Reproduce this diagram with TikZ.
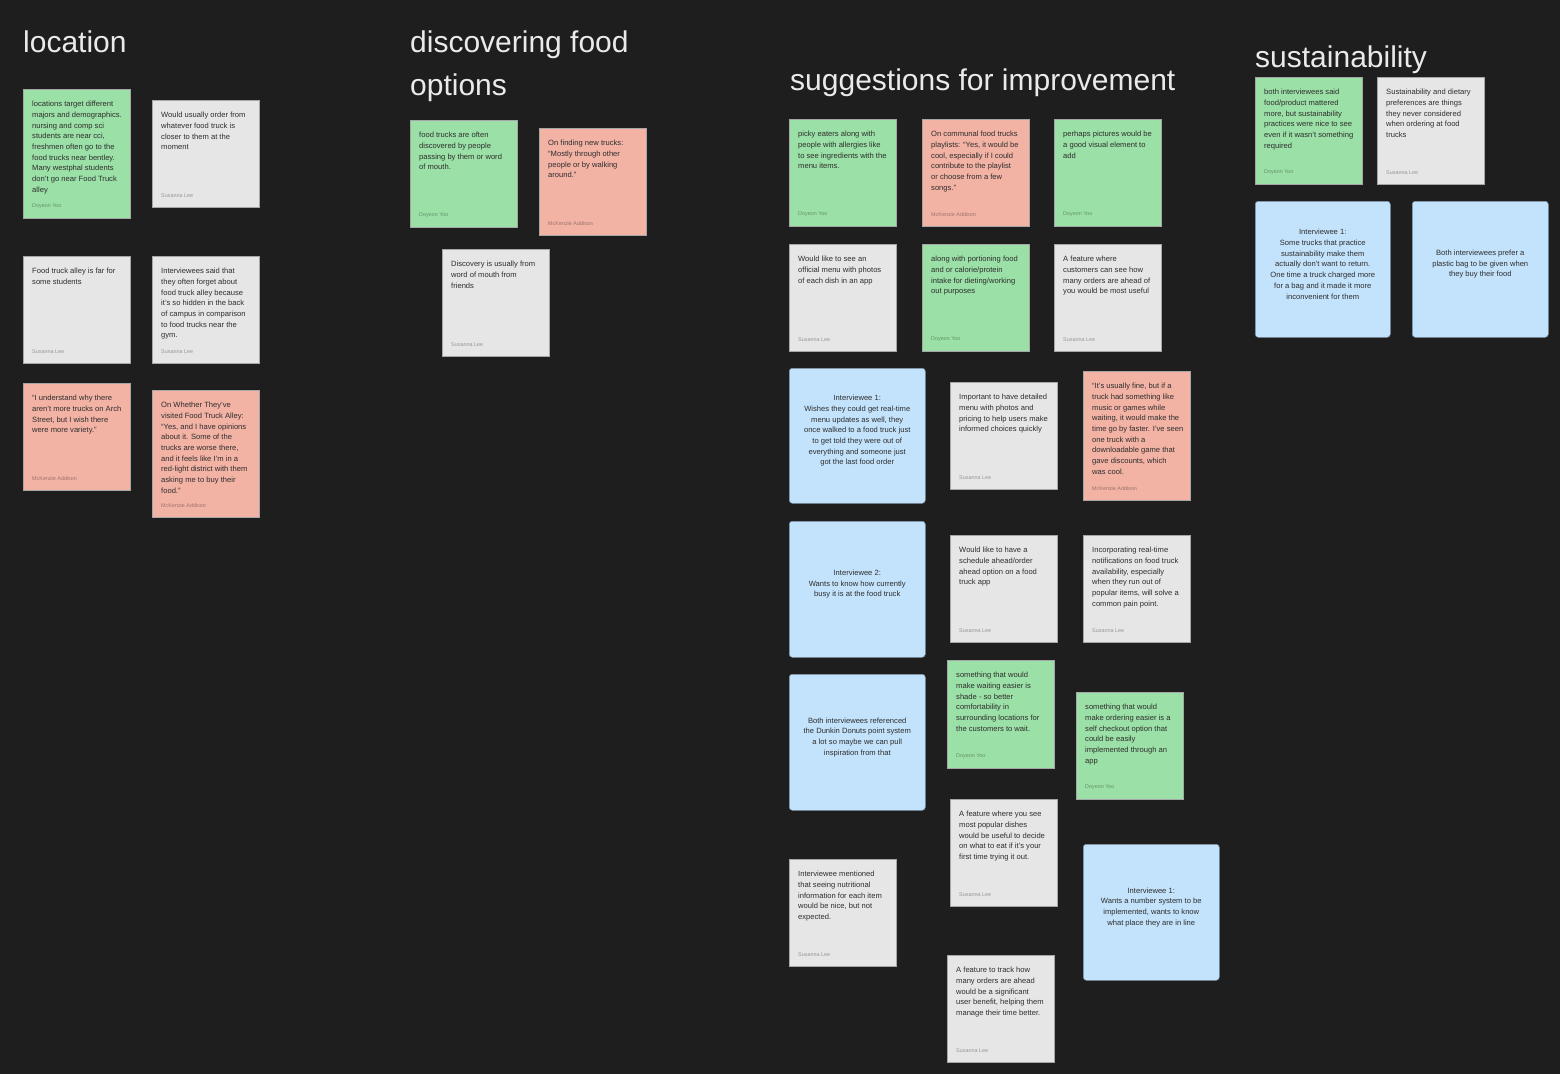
\documentclass[tikz,border=0pt]{standalone}
\usepackage{fontspec}
\setmainfont{Liberation Sans}
\definecolor{tablero}{HTML}{1E1E1E}
\definecolor{notaverde}{HTML}{9BE0A6}
\definecolor{notarosa}{HTML}{F2B2A4}
\definecolor{notagris}{HTML}{E6E6E6}
\definecolor{notaazul}{HTML}{C3E2FB}
\definecolor{bordeazul}{HTML}{7E93A6}
\definecolor{tinta}{HTML}{2E2E2E}
\definecolor{titulogris}{HTML}{EAEAEA}
\usetikzlibrary{positioning}

\tikzset{
  card/.style={anchor=north west, minimum width=107, minimum height=107, inner sep=0, draw=black!35, line width=0.5pt},
  greencard/.style={card, fill=notaverde},
  pinkcard/.style={card, fill=notarosa},
  greycard/.style={card, fill=notagris},
  bluecard/.style={card, fill=notaazul, draw=bordeazul, rounded corners=3pt, minimum width=136, minimum height=136},
  notetext/.style={anchor=north west, inner sep=0, align=left, text=tinta, font=\fontsize{7.6}{10.7}\selectfont},
  bluetext/.style={inner sep=0, align=center, text=tinta, font=\fontsize{7.6}{10.7}\selectfont},
  autor/.style={anchor=west, inner sep=0, text=black, text opacity=0.35, font=\fontsize{5.4}{6}\selectfont},
  titulo/.style={anchor=base west, inner sep=0, text=titulogris, font=\fontsize{30}{36}\selectfont}
}

\begin{document}
\begin{tikzpicture}[x=1pt, y=-1pt]
  \fill[tablero] (0,0) rectangle (1560,1074);

  % location
  \node[titulo] (locTitle) at (23,52) {location};
  \node[greencard, minimum height=129] (loc1) at (23,89) {};
  \node[notetext] (loc1t) at ([shift={(9,12)}]loc1.north west) {locations target different\\majors and demographics.\\nursing and comp sci\\students are near cci,\\freshmen often go to the\\food trucks near bentley.\\Many westphal students\\don’t go near Food Truck\\alley};
  \node[autor] (loc1a) at ([shift={(9,-12)}]loc1.south west) {Doyeon Yoo};
  \node[greycard] (loc2) at (152,100) {};
  \node[notetext] (loc2t) at ([shift={(9,12)}]loc2.north west) {Would usually order from\\whatever food truck is\\closer to them at the\\moment};
  \node[autor] (loc2a) at ([shift={(9,-12)}]loc2.south west) {Susanna Lee};
  \node[greycard] (loc3) at (23,256) {};
  \node[notetext] (loc3t) at ([shift={(9,12)}]loc3.north west) {Food truck alley is far for\\some students};
  \node[autor] (loc3a) at ([shift={(9,-12)}]loc3.south west) {Susanna Lee};
  \node[greycard] (loc4) at (152,256) {};
  \node[notetext] (loc4t) at ([shift={(9,12)}]loc4.north west) {Interviewees said that\\they often forget about\\food truck alley because\\it’s so hidden in the back\\of campus in comparison\\to food trucks near the\\gym.};
  \node[autor] (loc4a) at ([shift={(9,-12)}]loc4.south west) {Susanna Lee};
  \node[pinkcard] (loc5) at (23,383) {};
  \node[notetext] (loc5t) at ([shift={(9,12)}]loc5.north west) {“I understand why there\\aren’t more trucks on Arch\\Street, but I wish there\\were more variety.”};
  \node[autor] (loc5a) at ([shift={(9,-12)}]loc5.south west) {McKenzie Addison};
  \node[pinkcard, minimum height=127] (loc6) at (152,390) {};
  \node[notetext] (loc6t) at ([shift={(9,12)}]loc6.north west) {On Whether They’ve\\visited Food Truck Alley:\\“Yes, and I have opinions\\about it. Some of the\\trucks are worse there,\\and it feels like I’m in a\\red-light district with them\\asking me to buy their\\food.”};
  \node[autor] (loc6a) at ([shift={(9,-12)}]loc6.south west) {McKenzie Addison};

  % discovering food options
  \node[titulo] (discTitle) at (410,52) {discovering food};
  \node[titulo] (discTitle2) at (410,95) {options};
  \node[greencard] (disc1) at (410,120) {};
  \node[notetext] (disc1t) at ([shift={(9,12)}]disc1.north west) {food trucks are often\\discovered by people\\passing by them or word\\of mouth.};
  \node[autor] (disc1a) at ([shift={(9,-12)}]disc1.south west) {Doyeon Yoo};
  \node[pinkcard] (disc2) at (539,128) {};
  \node[notetext] (disc2t) at ([shift={(9,12)}]disc2.north west) {On finding new trucks:\\“Mostly through other\\people or by walking\\around.”};
  \node[autor] (disc2a) at ([shift={(9,-12)}]disc2.south west) {McKenzie Addison};
  \node[greycard] (disc3) at (442,249) {};
  \node[notetext] (disc3t) at ([shift={(9,12)}]disc3.north west) {Discovery is usually from\\word of mouth from\\friends};
  \node[autor] (disc3a) at ([shift={(9,-12)}]disc3.south west) {Susanna Lee};

  % suggestions for improvement
  \node[titulo] (sugTitle) at (790,90) {suggestions for improvement};
  \node[greencard] (sug1) at (789,119) {};
  \node[notetext] (sug1t) at ([shift={(9,12)}]sug1.north west) {picky eaters along with\\people with allergies like\\to see ingredients with the\\menu items.};
  \node[autor] (sug1a) at ([shift={(9,-12)}]sug1.south west) {Doyeon Yoo};
  \node[pinkcard] (sug2) at (922,119) {};
  \node[notetext] (sug2t) at ([shift={(9,12)}]sug2.north west) {On communal food trucks\\playlists: “Yes, it would be\\cool, especially if I could\\contribute to the playlist\\or choose from a few\\songs.”};
  \node[autor] (sug2a) at ([shift={(9,-12)}]sug2.south west) {McKenzie Addison};
  \node[greencard] (sug3) at (1054,119) {};
  \node[notetext] (sug3t) at ([shift={(9,12)}]sug3.north west) {perhaps pictures would be\\a good visual element to\\add};
  \node[autor] (sug3a) at ([shift={(9,-12)}]sug3.south west) {Doyeon Yoo};
  \node[greycard] (sug4) at (789,244) {};
  \node[notetext] (sug4t) at ([shift={(9,12)}]sug4.north west) {Would like to see an\\official menu with photos\\of each dish in an app};
  \node[autor] (sug4a) at ([shift={(9,-12)}]sug4.south west) {Susanna Lee};
  \node[greencard] (sug5) at (922,244) {};
  \node[notetext] (sug5t) at ([shift={(9,12)}]sug5.north west) {along with portioning food\\and or calorie/protein\\intake for dieting/working\\out purposes};
  \node[autor] (sug5a) at ([shift={(9,-12)}]sug5.south west) {Doyeon Yoo};
  \node[greycard] (sug6) at (1054,244) {};
  \node[notetext] (sug6t) at ([shift={(9,12)}]sug6.north west) {A feature where\\customers can see how\\many orders are ahead of\\you would be most useful};
  \node[autor] (sug6a) at ([shift={(9,-12)}]sug6.south west) {Susanna Lee};
  \node[bluecard, minimum height=135] (sug7) at (789,368) {};
  \node[bluetext] (sug7t) at ([yshift=5]sug7.center) {Interviewee 1:\\Wishes they could get real-time\\menu updates as well, they\\once walked to a food truck just\\to get told they were out of\\everything and someone just\\got the last food order};
  \node[greycard] (sug8) at (950,382) {};
  \node[notetext] (sug8t) at ([shift={(9,12)}]sug8.north west) {Important to have detailed\\menu with photos and\\pricing to help users make\\informed choices quickly};
  \node[autor] (sug8a) at ([shift={(9,-12)}]sug8.south west) {Susanna Lee};
  \node[pinkcard, minimum height=129] (sug9) at (1083,371) {};
  \node[notetext] (sug9t) at ([shift={(9,12)}]sug9.north west) {“It’s usually fine, but if a\\truck had something like\\music or games while\\waiting, it would make the\\time go by faster. I’ve seen\\one truck with a\\downloadable game that\\gave discounts, which\\was cool.};
  \node[autor] (sug9a) at ([shift={(9,-12)}]sug9.south west) {McKenzie Addison};
  \node[bluecard] (sug10) at (789,521) {};
  \node[bluetext] (sug10t) at ([yshift=5]sug10.center) {Interviewee 2:\\Wants to know how currently\\busy it is at the food truck};
  \node[greycard] (sug11) at (950,535) {};
  \node[notetext] (sug11t) at ([shift={(9,12)}]sug11.north west) {Would like to have a\\schedule ahead/order\\ahead option on a food\\truck app};
  \node[autor] (sug11a) at ([shift={(9,-12)}]sug11.south west) {Susanna Lee};
  \node[greycard] (sug12) at (1083,535) {};
  \node[notetext] (sug12t) at ([shift={(9,12)}]sug12.north west) {Incorporating real-time\\notifications on food truck\\availability, especially\\when they run out of\\popular items, will solve a\\common pain point.};
  \node[autor] (sug12a) at ([shift={(9,-12)}]sug12.south west) {Susanna Lee};
  \node[bluecard] (sug13) at (789,674) {};
  \node[bluetext] (sug13t) at ([yshift=5]sug13.center) {Both interviewees referenced\\the Dunkin Donuts point system\\a lot so maybe we can pull\\inspiration from that};
  \node[greencard, minimum height=108] (sug14) at (947,660) {};
  \node[notetext] (sug14t) at ([shift={(9,12)}]sug14.north west) {something that would\\make waiting easier is\\shade - so better\\comfortability in\\surrounding locations for\\the customers to wait.};
  \node[autor] (sug14a) at ([shift={(9,-12)}]sug14.south west) {Doyeon Yoo};
  \node[greencard] (sug15) at (1076,692) {};
  \node[notetext] (sug15t) at ([shift={(9,12)}]sug15.north west) {something that would\\make ordering easier is a\\self checkout option that\\could be easily\\implemented through an\\app};
  \node[autor] (sug15a) at ([shift={(9,-12)}]sug15.south west) {Doyeon Yoo};
  \node[greycard] (sug16) at (950,799) {};
  \node[notetext] (sug16t) at ([shift={(9,12)}]sug16.north west) {A feature where you see\\most popular dishes\\would be useful to decide\\on what to eat if it’s your\\first time trying it out.};
  \node[autor] (sug16a) at ([shift={(9,-12)}]sug16.south west) {Susanna Lee};
  \node[greycard] (sug17) at (789,859) {};
  \node[notetext] (sug17t) at ([shift={(9,12)}]sug17.north west) {Interviewee mentioned\\that seeing nutritional\\information for each item\\would be nice, but not\\expected.};
  \node[autor] (sug17a) at ([shift={(9,-12)}]sug17.south west) {Susanna Lee};
  \node[bluecard] (sug18) at (1083,844) {};
  \node[bluetext] (sug18t) at ([yshift=5]sug18.center) {Interviewee 1:\\Wants a number system to be\\implemented, wants to know\\what place they are in line};
  \node[greycard] (sug19) at (947,955) {};
  \node[notetext] (sug19t) at ([shift={(9,12)}]sug19.north west) {A feature to track how\\many orders are ahead\\would be a significant\\user benefit, helping them\\manage their time better.};
  \node[autor] (sug19a) at ([shift={(9,-12)}]sug19.south west) {Susanna Lee};

  % sustainability
  \node[titulo] (susTitle) at (1255,67) {sustainability};
  \node[greencard] (sus1) at (1255,77) {};
  \node[notetext] (sus1t) at ([shift={(9,12)}]sus1.north west) {both interviewees said\\food/product mattered\\more, but sustainability\\practices were nice to see\\even if it wasn’t something\\required};
  \node[autor] (sus1a) at ([shift={(9,-12)}]sus1.south west) {Doyeon Yoo};
  \node[greycard] (sus2) at (1377,77) {};
  \node[notetext] (sus2t) at ([shift={(9,12)}]sus2.north west) {Sustainability and dietary\\preferences are things\\they never considered\\when ordering at food\\trucks};
  \node[autor] (sus2a) at ([shift={(9,-12)}]sus2.south west) {Susanna Lee};
  \node[bluecard, minimum width=135] (sus3) at (1255,201) {};
  \node[bluetext] (sus3t) at ([yshift=5]sus3.center) {Interviewee 1:\\Some trucks that practice\\sustainability make them\\actually don’t want to return.\\One time a truck charged more\\for a bag and it made it more\\inconvenient for them};
  \node[bluecard] (sus4) at (1412,201) {};
  \node[bluetext] (sus4t) at ([yshift=5]sus4.center) {Both interviewees prefer a\\plastic bag to be given when\\they buy their food};
\end{tikzpicture}
\end{document}
